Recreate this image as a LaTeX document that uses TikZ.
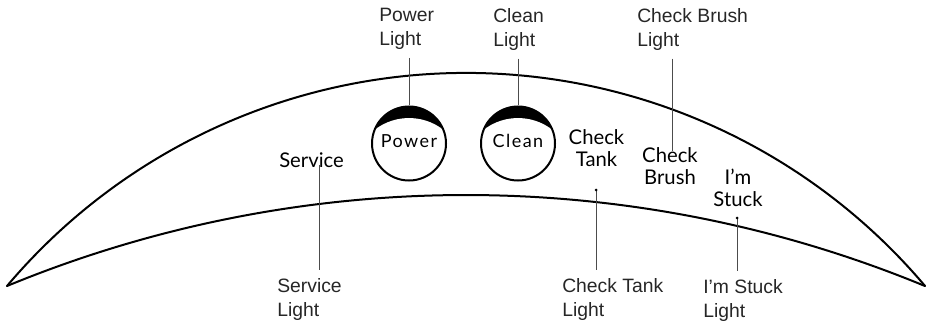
\documentclass[tikz,border=0pt]{standalone}
\usepackage{fontspec}
\setmainfont{Liberation Sans}
\newfontfamily\panelfont{Lato}
\newfontfamily\btnfont[LetterSpace=8]{Lato}
\usetikzlibrary{positioning}

\begin{document}
\begin{tikzpicture}[x=0.75pt,y=-0.75pt,
    callout/.style={align=left, inner sep=0pt, text=black!85, font=\fontsize{14.5}{18}\selectfont},
    paneltext/.style={align=center, inner sep=0pt, font=\panelfont\fontsize{15.2}{16.5}\selectfont},
    leader/.style={draw=black!70, line width=0.6pt},
    bezel/.style={line width=1.5pt, line cap=round},
    lightbtn/.style={circle, draw, line width=1.5pt, minimum size=55.5pt, inner sep=0pt,
        text depth=4pt, font=\btnfont\fontsize{13.5}{14}\selectfont,
        path picture={
            \fill[black] (path picture bounding box.center) circle (30pt);
            \fill[white] ([yshift=-22.9pt]path picture bounding box.center) circle (42pt);
        }}]
    \useasboundingbox (0,0) rectangle (931,324);

    % Rand van het paneel
    \coordinate (tipL) at (7,286);
    \coordinate (tipR) at (925,286);
    \draw[bezel] (tipL) arc[start angle=-139.8, end angle=-40.2, radius=601];
    \draw[bezel] (tipL) arc[start angle=-112.43, end angle=-67.57, radius=1203];

    % Knoppen
    \node[lightbtn] (pwrBtn) at (409,143.5) {Power};
    \node[lightbtn] (clnBtn) at (518,143.5) {Clean};

    % Teksten op het paneel
    \node[paneltext, anchor=north west] (svcTxt) at (279,152) {Service};
    \node[paneltext, anchor=north] (tankTxt) at (596.5,129) {Check\\Tank};
    \node[paneltext, anchor=north] (brushTxt) at (670,147) {Check\\Brush};
    \node[paneltext, anchor=north] (stuckTxt) at (738,169) {I’m\\Stuck};

    % Benamingen
    \node[callout, anchor=north west] (pwrLbl) at (379,8) {Power\\Light};
    \node[callout, anchor=north west] (clnLbl) at (493,8) {Clean\\Light};
    \node[callout, anchor=north west] (brushLbl) at (637,8) {Check Brush\\Light};
    \node[callout, anchor=north west] (svcLbl) at (277,278) {Service\\Light};
    \node[callout, anchor=north west] (tankLbl) at (562,278) {Check Tank\\Light};
    \node[callout, anchor=north west] (stuckLbl) at (703,279) {I’m Stuck\\Light};

    % Eindpunten van de lijnen
    \coordinate (svcTip) at (319,165);
    \coordinate (brushTip) at (672,151);
    \coordinate (tankTip) at (596,190);
    \coordinate (stuckTip) at (737,218);

    % Verwijslijnen
    \draw[leader] ([yshift=-6pt]pwrLbl.south -| pwrBtn.north) -- (pwrBtn.north);
    \draw[leader] ([yshift=-6pt]clnLbl.south -| clnBtn.north) -- (clnBtn.north);
    \draw[leader] ([yshift=-6pt]brushLbl.south -| brushTip) -- (brushTip);
    \draw[leader] (svcTip) -- ([yshift=6pt]svcLbl.north -| svcTip);
    \draw[leader] (tankTip) -- ([yshift=6pt]tankLbl.north -| tankTip);
    \draw[leader] (stuckTip) -- ([yshift=6pt]stuckLbl.north -| stuckTip);
    \fill (tankTip) circle (1.5);
    \fill (stuckTip) circle (1.5);

\end{tikzpicture}
\end{document}
